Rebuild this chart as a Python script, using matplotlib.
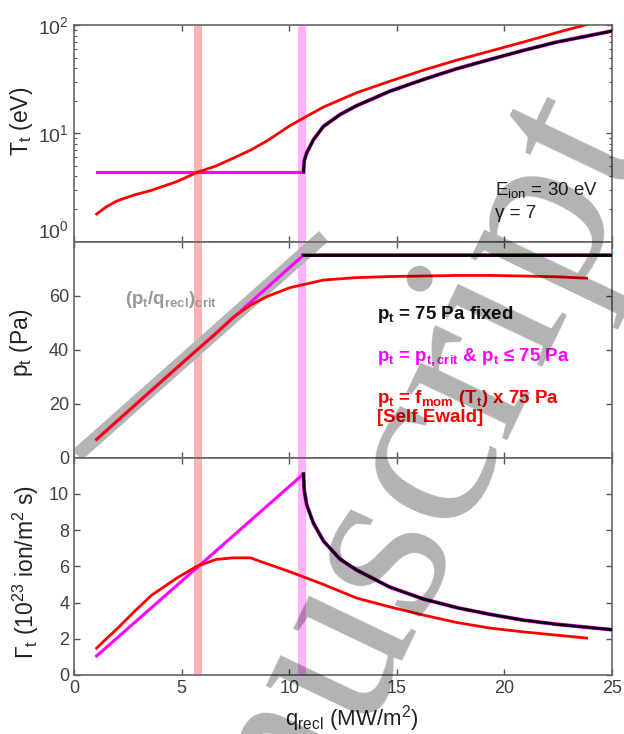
import matplotlib
matplotlib.use('Agg')
import matplotlib.pyplot as plt

plt.rcParams['font.family'] = ['Liberation Sans', 'DejaVu Sans']
plt.rcParams['mathtext.fontset'] = 'custom'
plt.rcParams['mathtext.rm'] = 'Liberation Sans'
plt.rcParams['mathtext.it'] = 'Liberation Sans:italic'
plt.rcParams['mathtext.bf'] = 'Liberation Sans:bold'

# red curve: p_t = f_mom(T_t) x 75 Pa [Self Ewald]
q_red = [1.05, 1.5, 2.0, 2.8, 3.6, 4.8, 5.7, 6.6, 7.4, 8.2, 9.0, 10.04, 11.59, 13.13,
         14.68, 16.23, 17.78, 19.33, 20.88, 22.43, 23.82]
T_red = [1.8, 2.1, 2.38, 2.7, 2.98, 3.6, 4.35, 5.0, 5.9, 7.0, 8.6, 11.8, 17.5, 23.7,
         30.3, 38.3, 47.4, 57.4, 69.6, 85.1, 101]
p_red = [6.8, 10.0, 13.6, 19.3, 25.0, 33.5, 39.8, 46.0, 52.0, 56.5, 59.8, 63.0, 65.8, 66.7,
         67.1, 67.3, 67.5, 67.5, 67.3, 67.0, 66.5]
G_red = [1.48, 2.0, 2.55, 3.5, 4.4, 5.37, 6.0, 6.38, 6.47, 6.47, 6.13, 5.7, 5.0, 4.25,
         3.76, 3.31, 2.9, 2.59, 2.38, 2.2, 2.04]

# magenta: p_t = p_t,crit (below 75 Pa)
q_mag = [1.05, 10.66]
T_mag = [4.4, 4.4]
p_mag = [6.8, 75.0]
G_mag = [1.05, 11.1]

# black: p_t = 75 Pa fixed
q_blk = [10.66, 10.7, 10.81, 11.12, 11.59, 12.36, 13.13, 14.68, 16.23, 17.78,
         19.33, 20.88, 22.43, 25.0]
T_blk = [4.4, 5.6, 6.6, 8.7, 11.6, 14.9, 18.0, 24.5, 31.4, 39.5, 48.1, 58.3,
         69.6, 88.0]
p_blk = [75.0] * len(q_blk)
G_blk = [11.1, 10.2, 9.4, 8.4, 7.4, 6.4, 5.8, 4.85, 4.2, 3.72, 3.35, 3.03,
         2.8, 2.5]

# critical ratio band and the two marked q values
q_crit_band = [0.15, 11.6]
p_crit_band = [1.0, 82.0]
q_mark_red = 5.76
q_mark_mag = 10.6

fig = plt.figure(figsize=(6.24, 7.34), dpi=100)
ax1 = fig.add_axes([0.1186, 0.6707, 0.8622, 0.2952])
ax2 = fig.add_axes([0.1186, 0.3764, 0.8622, 0.2943], sharex=ax1)
ax3 = fig.add_axes([0.1186, 0.0804, 0.8622, 0.2960], sharex=ax1)

series = [(ax1, T_red, T_mag, T_blk), (ax2, p_red, p_mag, p_blk), (ax3, G_red, G_mag, G_blk)]
for ax, yr, ym, yb in series:
    ax.axvspan(q_mark_red - 0.18, q_mark_red + 0.18, color='red', alpha=0.3, lw=0, zorder=1)
    ax.axvspan(q_mark_mag - 0.18, q_mark_mag + 0.18, color='magenta', alpha=0.3, lw=0, zorder=1)
    ax.plot(q_mag, ym, color='magenta', lw=2.2, zorder=3)
    ax.plot(q_blk, yb, color='magenta', lw=2.8, zorder=3)
    ax.plot(q_blk, yb, color='black', lw=2.0, zorder=4)
    ax.plot(q_red, yr, color='red', lw=2.0, zorder=5)

    ax.tick_params(which='both', direction='in', top=True, right=True,
                   colors='#555555', labelcolor='#404040', labelsize=13)
    ax.tick_params(which='major', length=4.5, width=1)
    ax.tick_params(which='minor', length=2.5, width=0.8)
    for s in ax.spines.values():
        s.set_color('#666666')
        s.set_linewidth(1.2)

ax2.plot(q_crit_band, p_crit_band, color='#b5b5b5', lw=10, solid_capstyle='butt',
         clip_on=False, zorder=2)

ax1.set_xlim(0, 25)
ax1.set_xticks([0, 5, 10, 15, 20, 25])
ax1.tick_params(labelbottom=False)
ax2.tick_params(labelbottom=False)

ax1.set_yscale('log')
ax1.set_ylim(1, 100)
ax1.set_yticks([1, 10, 100])
ax1.yaxis.set_minor_formatter(matplotlib.ticker.NullFormatter())
ax1.tick_params(labelsize=14)
ax1.yaxis.get_major_ticks()[0].label1.set_va('bottom')

ax2.set_ylim(0, 80)
ax2.set_yticks([0, 20, 40, 60])
ax3.set_ylim(0, 12)
ax3.set_yticks([0, 2, 4, 6, 8, 10])

ax1.set_ylabel('T$_\\mathrm{t}$ (eV)', fontsize=16.5, color='#222222')
ax2.set_ylabel('p$_\\mathrm{t}$ (Pa)', fontsize=16.5, color='#222222')
ax3.set_ylabel('$\\Gamma_\\mathrm{t}$ (10$^{23}$ ion/m$^2$ s)', fontsize=16.5, color='#222222')
ax1.yaxis.set_label_coords(-0.072, 0.557)
ax2.yaxis.set_label_coords(-0.072, 0.53)
ax3.yaxis.set_label_coords(-0.062, 0.475)
ax3.set_xlabel('q$_\\mathrm{recl}$ (MW/m$^2$)', fontsize=16, color='#222222')
ax3.xaxis.set_label_coords(0.517, -0.13)

ax1.text(19.56, 3.0, 'E$_\\mathrm{ion}$ = 30 eV', fontsize=13.5, color='#222222', va='center')
ax1.text(19.56, 1.84, '\u03b3 = 7', fontsize=13.5, color='#222222', va='center')

ax2.text(2.37, 58.5, '(p$_\\mathbf{t}$/q$_\\mathbf{recl}$)$_\\mathbf{crit}$', fontsize=13.5,
         fontweight='bold', color='#999999', va='center')
ax2.text(14.08, 52.9, 'p$_\\mathbf{t}$ = 75 Pa fixed', fontsize=13.5, fontweight='bold',
         color='#111111', va='center', zorder=6)
ax2.text(14.08, 37.3, 'p$_\\mathbf{t}$ = p$_\\mathbf{t,crit}$ & p$_\\mathbf{t}$ \u2264 75 Pa',
         fontsize=13.5, fontweight='bold', color='magenta', va='center', zorder=6)
ax2.text(14.08, 21.9, 'p$_\\mathbf{t}$ = f$_\\mathbf{mom}$ (T$_\\mathbf{t}$) x 75 Pa',
         fontsize=13.5, fontweight='bold', color='red', va='center', zorder=6)
ax2.text(14.08, 15.0, '[Self Ewald]', fontsize=13.5, fontweight='bold', color='red',
         va='center', zorder=6)

# watermark
fig.text(1.045, 0.809, 'Accepted Manuscript', rotation=64.5, rotation_mode='anchor',
         ha='right', va='baseline', fontsize=175, family='Liberation Serif',
         color='black', alpha=0.3, zorder=10)

fig.savefig('out.png', dpi=100)
